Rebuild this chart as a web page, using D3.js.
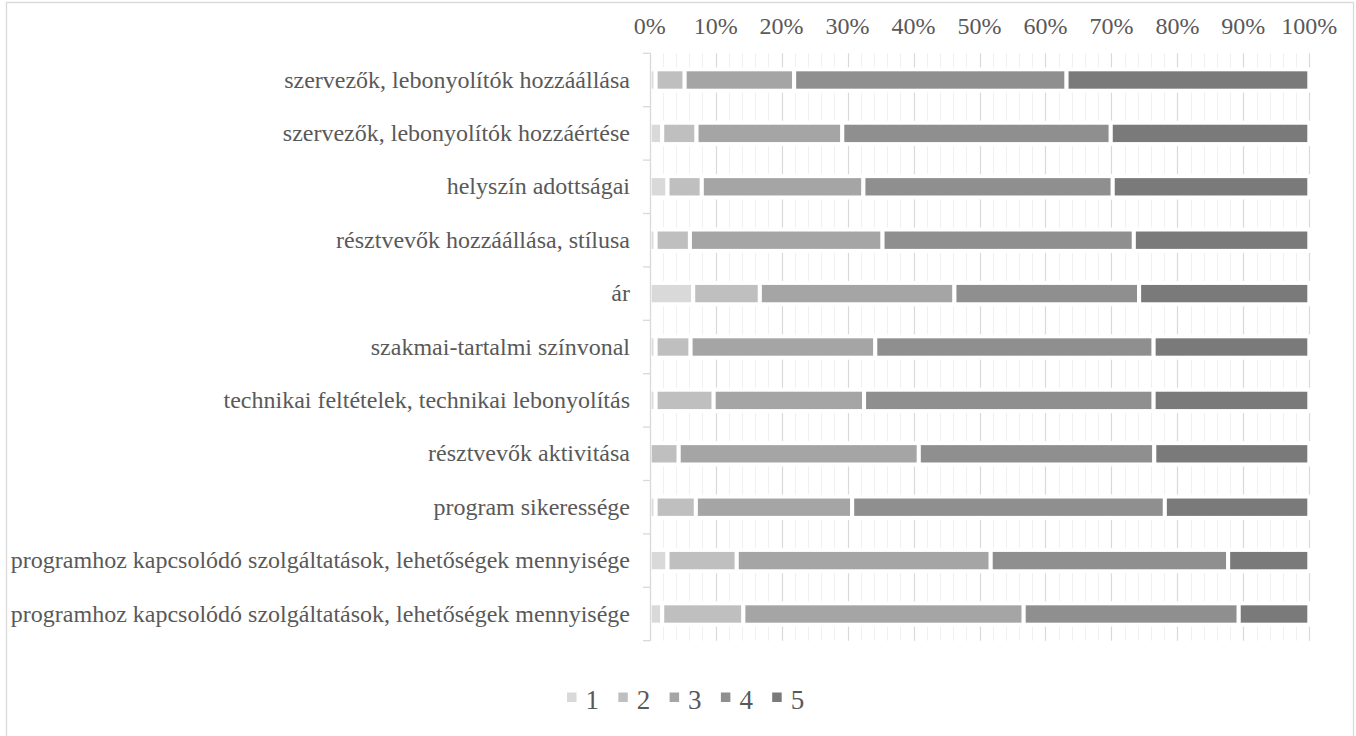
<!DOCTYPE html>
<html>
<head>
<meta charset="utf-8">
<script src="https://cdn.jsdelivr.net/npm/d3@7"></script>
<style>
  body { margin: 0; background: #fff; }
  svg { display: block; }
  text { font-family: "Liberation Serif", "Times New Roman", serif; fill: #595959; }
</style>
</head>
<body>
<div id="chart"></div>
<script>
// categories, top to bottom
var categories = [
  "szervezők, lebonyolítók hozzáállása",
  "szervezők, lebonyolítók hozzáértése",
  "helyszín adottságai",
  "résztvevők hozzáállása, stílusa",
  "ár",
  "szakmai-tartalmi színvonal",
  "technikai feltételek, technikai lebonyolítás",
  "résztvevők aktivitása",
  "program sikeressége",
  "programhoz kapcsolódó szolgáltatások, lehetőségek mennyisége",
  "programhoz kapcsolódó szolgáltatások, lehetőségek mennyisége"
];

// share of answers (%) for each rating
var s1 = [0.9, 1.9, 2.7, 0.9, 6.6, 0.9, 0.9, 0.0, 0.9, 2.7, 1.9];
var s2 = [4.4, 5.2, 5.2, 5.2, 10.1, 5.3, 8.8, 4.4, 6.1, 10.5, 12.3];
var s3 = [16.6, 22.1, 24.5, 29.2, 29.5, 28.0, 22.8, 36.4, 23.7, 38.5, 42.5];
var s4 = [41.3, 40.7, 37.8, 38.1, 28.0, 42.2, 43.9, 35.7, 47.4, 36.0, 32.6];
var s5 = [36.8, 30.1, 29.8, 26.6, 25.8, 23.6, 23.6, 23.5, 21.9, 12.3, 10.7];

var seriesNames = ["1", "2", "3", "4", "5"];
var tickValues = [0, 10, 20, 30, 40, 50, 60, 70, 80, 90, 100];

var width = 1356, height = 736;
var colors = ["#d9d9d9", "#bfbfbf", "#a5a5a5", "#8f8f8f", "#7a7a7a"];

var rows = categories.map(function(c, i) {
  return { idx: i, name: c, "1": s1[i], "2": s2[i], "3": s3[i], "4": s4[i], "5": s5[i] };
});

var stack = d3.stack().keys(seriesNames);
var layers = stack(rows);

var x = d3.scaleLinear().domain([0, 100]).range([649.7, 1309.3]);
var y = d3.scaleBand().domain(d3.range(categories.length)).range([53.3, 640.7]);
var barH = y.bandwidth() * 0.4;

var svg = d3.select("#chart").append("svg")
  .attr("width", width)
  .attr("height", height);

// chart frame
svg.append("rect")
  .attr("x", 6.5).attr("y", 2.5)
  .attr("width", 1347).attr("height", 760)
  .attr("fill", "none")
  .attr("stroke", "#d9d9d9")
  .attr("stroke-width", 1.3);

// minor gridlines every 2%
svg.append("g").selectAll("line")
  .data(d3.range(2, 100, 2).filter(function(v) { return v % 10 !== 0; }))
  .enter().append("line")
  .attr("x1", function(d) { return Math.round(x(d)) + 0.5; })
  .attr("x2", function(d) { return Math.round(x(d)) + 0.5; })
  .attr("y1", y.range()[0]).attr("y2", y.range()[1])
  .attr("stroke", "#f0f0f0");

// major gridlines
svg.append("g").selectAll("line")
  .data(tickValues.slice(1))
  .enter().append("line")
  .attr("x1", function(d) { return Math.round(x(d)) + 0.5; })
  .attr("x2", function(d) { return Math.round(x(d)) + 0.5; })
  .attr("y1", y.range()[0]).attr("y2", y.range()[1])
  .attr("stroke", "#d9d9d9")
  .attr("stroke-width", 1.2);

// stacked bars
svg.append("g").selectAll("g")
  .data(layers)
  .enter().append("g")
  .attr("fill", function(d, i) { return colors[i]; })
  .selectAll("rect")
  .data(function(d) { return d; })
  .enter().append("rect")
  .attr("x", function(d) { return x(d[0]); })
  .attr("width", function(d) { return Math.max(0, x(d[1]) - x(d[0])); })
  .attr("y", function(d) { return y(d.data.idx) + (y.bandwidth() - barH) / 2; })
  .attr("height", barH)
  .attr("stroke", "#fff")
  .attr("stroke-width", 4);

// left axis line with category ticks
var axis = svg.append("g").attr("stroke", "#d9d9d9").attr("stroke-width", 1.3);
axis.append("line")
  .attr("x1", 650.5).attr("x2", 650.5)
  .attr("y1", y.range()[0]).attr("y2", y.range()[1]);
axis.selectAll(".tk")
  .data(d3.range(categories.length + 1))
  .enter().append("line")
  .attr("class", "tk")
  .attr("x1", 643).attr("x2", 650.5)
  .attr("y1", function(d) { return y.range()[0] + d * y.step(); })
  .attr("y2", function(d) { return y.range()[0] + d * y.step(); });

// top percentage labels
svg.append("g").selectAll("text")
  .data(tickValues)
  .enter().append("text")
  .attr("x", function(d) { return x(d); })
  .attr("y", 34)
  .attr("text-anchor", "middle")
  .attr("font-size", 24)
  .text(function(d) { return d + "%"; });

// category labels
svg.append("g").selectAll("text")
  .data(rows)
  .enter().append("text")
  .attr("x", 630)
  .attr("y", function(d) { return y(d.idx) + y.bandwidth() / 2; })
  .attr("dy", "0.32em")
  .attr("text-anchor", "end")
  .attr("font-size", 24)
  .text(function(d) { return d.name; });

// legend
var legend = svg.append("g").selectAll("g")
  .data(seriesNames)
  .enter().append("g")
  .attr("transform", function(d, i) { return "translate(" + (567 + i * 51.3) + ",0)"; });
legend.append("rect")
  .attr("x", 0).attr("y", 692.5)
  .attr("width", 9.5).attr("height", 9.5)
  .attr("fill", function(d, i) { return colors[i]; });
legend.append("text")
  .attr("x", 18.5).attr("y", 708.5)
  .attr("font-size", 27)
  .text(function(d) { return d; });
</script>
</body>
</html>
